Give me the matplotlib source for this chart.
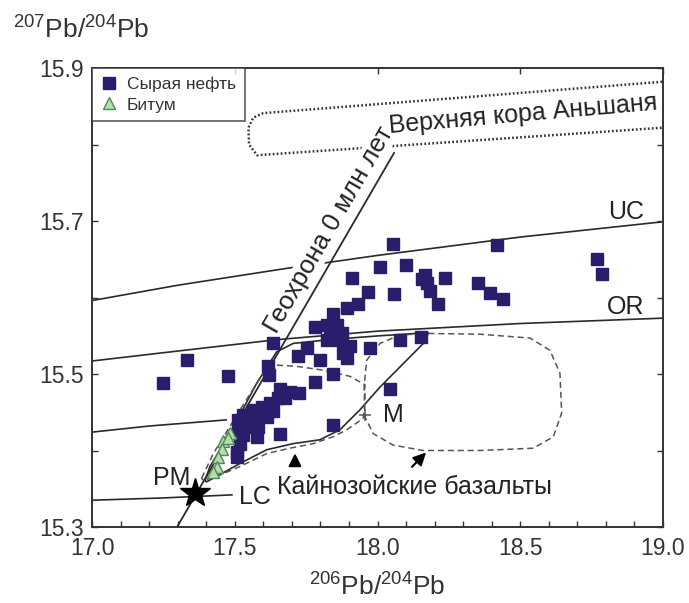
import numpy as np
import matplotlib
matplotlib.use("Agg")
import matplotlib.pyplot as plt
from matplotlib.ticker import MultipleLocator, FixedLocator

plt.rcParams['font.family'] = ['Liberation Sans', 'DejaVu Sans']
plt.rcParams['mathtext.fontset'] = 'custom'
plt.rcParams['mathtext.rm'] = 'Liberation Sans'
plt.rcParams['mathtext.it'] = 'Liberation Sans:italic'

# ---------------- data ----------------
oil_x = [18.053, 18.418, 18.768, 18.785, 17.910, 18.009, 18.100, 18.166, 18.155, 18.174,
         18.184, 18.235, 18.213, 18.353, 18.394, 18.441, 18.059, 17.968, 17.933, 17.892,
         17.845, 17.781, 18.079, 18.151, 17.974, 18.044, 17.822, 17.857, 17.834, 17.875,
         17.822, 17.869, 17.904, 17.635, 17.752, 17.723, 17.799, 17.880, 17.892, 17.618,
         17.621, 17.476, 17.332, 17.250, 17.781, 17.845, 17.658, 17.694, 17.725, 17.676,
         17.653, 17.623, 17.594, 17.565, 17.635, 17.612, 17.577, 17.530, 17.512, 17.547,
         17.582, 17.542, 17.512, 17.530, 17.577, 17.518, 17.507, 17.507, 17.658, 17.845]
oil_y = [15.670, 15.669, 15.650, 15.631, 15.626, 15.640, 15.642, 15.629, 15.624, 15.619,
         15.608, 15.625, 15.592, 15.619, 15.606, 15.598, 15.605, 15.607, 15.592, 15.586,
         15.579, 15.562, 15.545, 15.548, 15.534, 15.481, 15.564, 15.564, 15.553, 15.553,
         15.544, 15.544, 15.536, 15.540, 15.534, 15.523, 15.518, 15.527, 15.521, 15.510,
         15.499, 15.497, 15.518, 15.488, 15.490, 15.500, 15.480, 15.477, 15.475, 15.468,
         15.468, 15.462, 15.457, 15.453, 15.451, 15.444, 15.442, 15.446, 15.440, 15.440,
         15.431, 15.431, 15.427, 15.420, 15.418, 15.409, 15.398, 15.392, 15.422, 15.433]

bit_x = [17.483, 17.460, 17.454, 17.442, 17.437, 17.425, 17.476]
bit_y = [15.423, 15.412, 15.402, 15.391, 15.379, 15.372, 15.416]

# evolution curves
uc_x = [17.0, 17.3, 17.68, 18.0, 18.5, 19.0]
uc_y = [15.596, 15.616, 15.638, 15.655, 15.679, 15.699]
or_x = [17.0, 17.3, 17.65, 18.0, 18.5, 19.0]
or_y = [15.517, 15.530, 15.545, 15.556, 15.566, 15.573]
m_x = [17.0, 17.2, 17.47]
m_y = [15.424, 15.432, 15.440]
lc_x = [17.0, 17.25, 17.49]
lc_y = [15.335, 15.338, 15.342]

geo_x = [17.298, 18.058]
geo_y = [15.300, 15.789]

pm_x, pm_y = 17.362, 15.344
m_pt_x, m_pt_y = 17.956, 15.446

# outlines
solid_x = [17.396, 17.413, 17.483, 17.577, 17.647, 17.705, 17.833, 18.009, 18.178, 18.166,
           18.102, 18.009, 17.938, 17.868, 17.798, 17.705, 17.612, 17.518, 17.436, 17.401, 17.396]
solid_y = [15.361, 15.379, 15.422, 15.488, 15.529, 15.540, 15.545, 15.550, 15.554, 15.542,
           15.518, 15.483, 15.453, 15.427, 15.414, 15.409, 15.401, 15.383, 15.366, 15.359, 15.361]

inner_x = [17.384, 17.425, 17.518, 17.600, 17.629, 17.717, 17.810, 17.903, 17.956, 17.956,
           17.950, 17.892, 17.845, 17.775, 17.693, 17.612, 17.518, 17.436, 17.390, 17.384]
inner_y = [15.364, 15.396, 15.453, 15.501, 15.512, 15.510, 15.505, 15.497, 15.486, 15.462,
           15.442, 15.427, 15.418, 15.409, 15.403, 15.396, 15.379, 15.366, 15.361, 15.364]

blob_x = [18.178, 18.359, 18.534, 18.604, 18.639, 18.645, 18.616, 18.546, 18.359, 18.160,
          18.055, 17.985, 17.956, 17.953, 17.962, 18.009, 18.079, 18.178]
blob_y = [15.553, 15.552, 15.547, 15.531, 15.501, 15.449, 15.418, 15.403, 15.400, 15.400,
          15.407, 15.422, 15.444, 15.483, 15.518, 15.540, 15.551, 15.553]

anshan_x = [19.1, 17.60, 17.565, 17.548, 17.550, 17.578, 19.1]
anshan_y = [15.885, 15.841, 15.835, 15.822, 15.800, 15.786, 15.8245]

# ---------------- figure ----------------
W, H = 689, 603
fig = plt.figure(figsize=(W / 100, H / 100), dpi=100)
ax = fig.add_axes([92 / W, 1 - 527 / H, (663 - 92) / W, (527 - 68) / H])
ax.set_xlim(17.0, 19.0)
ax.set_ylim(15.3, 15.9)

lc = '#2a2a2a'
ax.plot(uc_x, uc_y, color=lc, lw=1.2, zorder=2)
ax.plot(or_x, or_y, color=lc, lw=1.2, zorder=2)
ax.plot(m_x, m_y, color=lc, lw=1.2, zorder=2)
ax.plot(lc_x, lc_y, color=lc, lw=1.2, zorder=2)
ax.plot(geo_x, geo_y, color=lc, lw=1.3, zorder=2)

ax.plot(solid_x, solid_y, color=lc, lw=1.2, zorder=2)
ax.plot(inner_x, inner_y, color='#555555', lw=1.1, ls=(0, (4, 2.5)), zorder=2)
ax.plot(blob_x, blob_y, color='#555555', lw=1.1, ls=(0, (4, 2.5)), zorder=2)
ax.plot(anshan_x, anshan_y, color='#333333', lw=1.8, ls=(0, (0.7, 0.9)), zorder=2)

ax.plot([m_pt_x], [m_pt_y], marker='+', ms=9, mew=1.1, color='#555555', zorder=3)
ax.plot([pm_x], [pm_y], marker='*', ms=22, color='black', zorder=5)

ax.plot(oil_x, oil_y, ls='none', marker='s', ms=8.5, mfc='#2b1d6b', mec='#2b1d6b',
        zorder=4, label='Сырая нефть')
ax.plot(bit_x, bit_y, ls='none', marker='^', ms=9, mfc='#b5dbb0', mec='#4f8a55',
        mew=1.0, zorder=4, label='Битум')

fs = 18
tc = '#222222'
ax.text(17.830, 15.688, 'Геохрона 0 млн лет', fontsize=18.5, rotation=60,
        ha='center', va='center', rotation_mode='anchor', color=tc, zorder=3,
        bbox=dict(fc='white', ec='none', pad=0.5))
ax.text(18.51, 15.839, 'Верхняя кора Аньшаня', fontsize=fs, rotation=5,
        ha='center', va='center', rotation_mode='anchor', color=tc, zorder=3)
ax.text(18.87, 15.712, 'UC', fontsize=fs, ha='center', va='center', color=tc)
ax.text(18.87, 15.588, 'OR', fontsize=fs, ha='center', va='center', color=tc)
ax.text(18.02, 15.446, 'M', fontsize=fs, ha='left', va='center', color=tc)
ax.text(17.278, 15.364, 'PM', fontsize=fs, ha='center', va='center', color=tc)
ax.text(17.571, 15.339, 'LC', fontsize=fs, ha='center', va='center', color=tc)
ax.text(17.648, 15.352, 'Кайнозойские базальты', fontsize=fs, ha='left', va='center',
        color=tc)

arrow = dict(arrowstyle='-|>', color='black', lw=1.5, mutation_scale=19)
ax.annotate('', xy=(17.711, 15.400), xytext=(17.711, 15.376), arrowprops=arrow)
ax.annotate('', xy=(18.177, 15.400), xytext=(18.114, 15.376), arrowprops=arrow)

# ticks
ax.xaxis.set_major_locator(MultipleLocator(0.5))
ax.xaxis.set_minor_locator(MultipleLocator(0.1))
ax.yaxis.set_major_locator(FixedLocator([15.3, 15.5, 15.7, 15.9]))
ax.yaxis.set_minor_locator(MultipleLocator(0.1))
ax.xaxis.set_major_formatter(matplotlib.ticker.FormatStrFormatter('%.1f'))
ax.yaxis.set_major_formatter(matplotlib.ticker.FormatStrFormatter('%.1f'))
ax.tick_params(which='both', direction='in', length=4, width=1.0, color='#333333',
               top=True, right=True, labelsize=16.5, labelcolor='#333333')
ax.tick_params(axis='x', which='minor', top=False)
ax.tick_params(axis='x', which='major', pad=7)
ax.tick_params(axis='y', which='major', pad=6)
for s in ax.spines.values():
    s.set_linewidth(1.4)
    s.set_color('#333333')

leg = ax.legend(loc='upper left', bbox_to_anchor=(0, 1), borderaxespad=0,
                fontsize=12.5, frameon=True, fancybox=False, handlelength=1.0,
                handletextpad=0.5, borderpad=0.5, labelspacing=0.3)
leg.get_frame().set_edgecolor('#333333')
leg.get_frame().set_linewidth(1.2)
for t in leg.get_texts():
    t.set_color('#333333')

fig.text(377 / W, 0.004, r'$^{206}$Pb/$^{204}$Pb', fontsize=19, ha='center', va='bottom',
         color='#333333')
fig.text(13 / W, 1 - 30 / H, r'$^{207}$Pb/$^{204}$Pb', fontsize=19, ha='left', va='center',
         color='#333333')

fig.savefig('out.png', dpi=100)
